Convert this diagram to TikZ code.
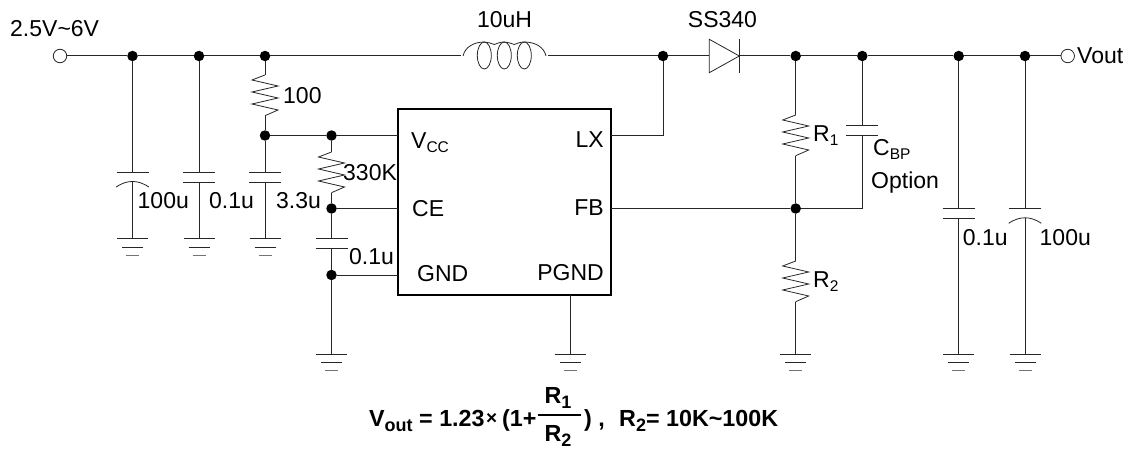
\documentclass[tikz,border=0pt]{standalone}
\usepackage{fontspec}
\setmainfont{Liberation Sans}
\newcommand{\subtxt}[1]{\raisebox{-4pt}{\fontsize{15.5}{15}\selectfont #1}}
\newcommand{\subbf}[1]{\raisebox{-5pt}{\fontsize{18}{17}\selectfont\bfseries #1}}
\tikzset{
  wire/.style={line width=1pt,color=black!85},
  dotnode/.style={circle,fill=black,inner sep=0pt,minimum size=10.5pt},
  portnode/.style={circle,draw=black!85,fill=white,line width=0.8pt,inner sep=0pt,minimum size=13.5pt},
  lbl/.style={inner sep=0pt,anchor=west,font=\fontsize{23}{26}\selectfont},
  bflbl/.style={inner sep=0pt,anchor=base west,font=\fontsize{23.3}{26}\selectfont\bfseries},
  resis/.pic={
    \coordinate (-top) at (0,0);
    \coordinate (-bot) at (0,40.7);
    \draw [wire,line width=0.8pt] (-top) -- (-13,5) -- (13,11) -- (-13,17) -- (13,23) -- (-13,29) -- (13,35) -- (-bot);
  },
  capa/.pic={
    \coordinate (-top) at (0,0);
    \coordinate (-bot) at (0,10);
    \draw [wire] (-16,0) -- (16,0);
    \draw [wire] (-16,10) -- (16,10);
  },
  capb/.pic={
    \coordinate (-top) at (0,0);
    \coordinate (-bot) at (0,9.5);
    \draw [wire] (-16,0) -- (16,0);
    \draw [wire,line width=0.8pt] (-16.3,15) .. controls (-10,10.8) and (-5,9.5) .. (0,9.5) .. controls (5,9.5) and (10,10.8) .. (16.3,15);
  },
  earth/.pic={
    \coordinate (-top) at (0,0);
    \draw [wire] (-15.5,0) -- (15.5,0);
    \draw [wire] (-10.5,8.5) -- (10.5,8.5);
    \draw [wire,black!55] (-6.5,16.5) -- (6.5,16.5);
  },
}
\begin{document}
\begin{tikzpicture}[x=1pt,y=-1pt]
\useasboundingbox (0,0) rectangle (1133,452);

% junctions on the top rail
\node [portnode] (vin) at (60,56) {};
\node [dotnode] (n1) at (132.5,56) {};
\node [dotnode] (n2) at (199,56) {};
\node [dotnode] (n3) at (265,56) {};
\node [dotnode] (n4) at (663,56) {};
\node [dotnode] (n5) at (795.7,56) {};
\node [dotnode] (n6) at (862.3,56) {};
\node [dotnode] (n7) at (958.7,56) {};
\node [dotnode] (n8) at (1025,56) {};
\node [portnode] (vout) at (1067.7,56) {};

% the chip
\draw [line width=2pt] (398,109) rectangle (610.7,294.7);
\coordinate (vcc) at (398,135.5);
\coordinate (ce) at (398,208.5);
\coordinate (gnd) at (398,275);
\coordinate (lx) at (610.7,135.5);
\coordinate (fb) at (610.7,208.5);
\coordinate (pgnd) at (570,294.7);
\node [lbl] (tvcc) at (411,143) {V\subtxt{CC}};
\node [lbl] (tce) at (412,208.5) {CE};
\node [lbl] (tgnd) at (417,274) {GND};
\node [lbl,anchor=east] (tlx) at (604,140) {LX};
\node [lbl,anchor=east] (tfb) at (604,208) {FB};
\node [lbl,anchor=east] (tpgnd) at (604,273) {PGND};

% inner junctions
\node [dotnode] (n9) at (265,135.5) {};
\node [dotnode] (n10) at (331.5,135.5) {};
\node [dotnode] (n11) at (331.5,208.5) {};
\node [dotnode] (n12) at (331.5,275) {};
\node [dotnode] (n13) at (795.7,208.5) {};

% parts
\pic (c1) at (132.5,172) {capb};
\pic (c2) at (199,172) {capa};
\pic (c3) at (265,172) {capa};
\pic (c4) at (331.5,238.5) {capa};
\pic (c5) at (862.3,125.7) {capa};
\pic (c6) at (958.7,208.3) {capa};
\pic (c7) at (1025,208.3) {capb};
\pic (r1) at (265,75) {resis};
\pic (r2) at (331.5,152) {resis};
\pic (r3) at (795.7,115) {resis};
\pic (r4) at (795.7,261) {resis};
\pic (g1) at (132.5,238.5) {earth};
\pic (g2) at (199,238.5) {earth};
\pic (g3) at (265,238.5) {earth};
\pic (g4) at (331.5,354) {earth};
\pic (g5) at (570,354) {earth};
\pic (g6) at (795.7,354.3) {earth};
\pic (g7) at (958.7,354.3) {earth};
\pic (g8) at (1025,354.3) {earth};

% coil
\coordinate (la) at (463,56);
\coordinate (lb) at (546,56);
\draw [wire,line width=0.8pt] (484.3,55.5) ellipse [x radius=7,y radius=13.5];
\draw [wire,line width=0.8pt] (504.3,55.5) ellipse [x radius=7,y radius=13.5];
\draw [wire,line width=0.8pt] (524.3,55.5) ellipse [x radius=7,y radius=13.5];
\draw [wire,line width=0.8pt] (la) .. controls (465,47) and (474,42) .. (484.3,42) .. controls (488,42) and (491,43.5) .. (494.3,44.5) .. controls (497,43.5) and (500,42) .. (504.3,42) .. controls (508,42) and (511,43.5) .. (514.3,44.5) .. controls (517,43.5) and (520,42) .. (524.3,42) .. controls (535,42) and (544,47) .. (lb);

% diode
\coordinate (da) at (709.3,56);
\coordinate (db) at (739.3,56);
\draw [wire,line width=0.8pt] (709.3,39.3) -- (709.3,72.7) -- (db) -- cycle;
\draw [wire,line width=0.8pt] (739.3,39.3) -- (739.3,72.7);

% rail
\draw [wire] (vin) -- (n1) -- (n2) -- (n3) -- (461,56);
\draw [wire] (548,56) -- (n4) -- (da);
\draw [wire] (db) -- (n5) -- (n6) -- (n7) -- (n8) -- (vout);

% drops
\draw [wire] (n1) -- (c1-top);
\draw [wire] (c1-bot) -- (g1-top);
\draw [wire] (n2) -- (c2-top);
\draw [wire] (c2-bot) -- (g2-top);
\draw [wire] (n3) -- (r1-top);
\draw [wire] (r1-bot) -- (n9);
\draw [wire] (n9) -- (c3-top);
\draw [wire] (c3-bot) -- (g3-top);
\draw [wire] (n9) -- (n10) -- (vcc);
\draw [wire] (n10) -- (r2-top);
\draw [wire] (r2-bot) -- (n11);
\draw [wire] (n11) -- (ce);
\draw [wire] (n11) -- (c4-top);
\draw [wire] (c4-bot) -- (n12);
\draw [wire] (n12) -- (gnd);
\draw [wire] (n12) -- (g4-top);
\draw [wire] (pgnd) -- (g5-top);
\draw [wire] (n4) |- (lx);
\draw [wire] (n5) -- (r3-top);
\draw [wire] (r3-bot) -- (n13);
\draw [wire] (n13) -- (r4-top);
\draw [wire] (r4-bot) -- (g6-top);
\draw [wire] (fb) -- (n13);
\draw [wire] (n6) -- (c5-top);
\draw [wire] (c5-bot) |- (n13);
\draw [wire] (n7) -- (c6-top);
\draw [wire] (c6-bot) -- (g7-top);
\draw [wire] (n8) -- (c7-top);
\draw [wire] (c7-bot) -- (g8-top);

% Text Node
\node [lbl] (tvin) at (10,29) {2.5V\textasciitilde 6V};
\node [lbl,anchor=center] (tcoil) at (504.5,20) {10uH};
\node [lbl,anchor=center] (tdiode) at (722.5,20) {SS340};
\node [lbl] (tvout) at (1077,56) {Vout};
\node [lbl] (tr1) at (283,95.5) {100};
\node [lbl] (tr2) at (343,173) {330K};
\node [lbl] (tc1) at (137.5,201) {100u};
\node [lbl] (tc2) at (209,201) {0.1u};
\node [lbl] (tc3) at (276,201) {3.3u};
\node [lbl] (tc4) at (349,257) {0.1u};
\node [lbl] (tr3) at (813,136) {R\subtxt{1}};
\node [lbl] (tr4) at (813,282) {R\subtxt{2}};
\node [lbl] (tc5) at (873,149) {C\subtxt{BP}};
\node [lbl] (topt) at (871,183) {Option};
\node [lbl] (tc6) at (962.7,238) {0.1u};
\node [lbl] (tc7) at (1039.5,238) {100u};

% formula
\node [bflbl] (fa) at (369,426) {V\subbf{out} = 1.23};
\node [bflbl] (fb1) at (486,424) {\fontsize{19}{19}\selectfont ×};
\node [bflbl] (fc) at (502,426) {(1+};
\node [bflbl,anchor=base] (fd) at (558,403) {R\subbf{1}};
\node [bflbl,anchor=base] (fe) at (558,441) {R\subbf{2}};
\draw [line width=1.5pt] (538,415) -- (581,415);
\node [bflbl] (ff) at (584,426) {) ,};
\node [bflbl] (fg) at (619,426) {R\subbf{2}= 10K\textasciitilde 100K};
\end{tikzpicture}
\end{document}
